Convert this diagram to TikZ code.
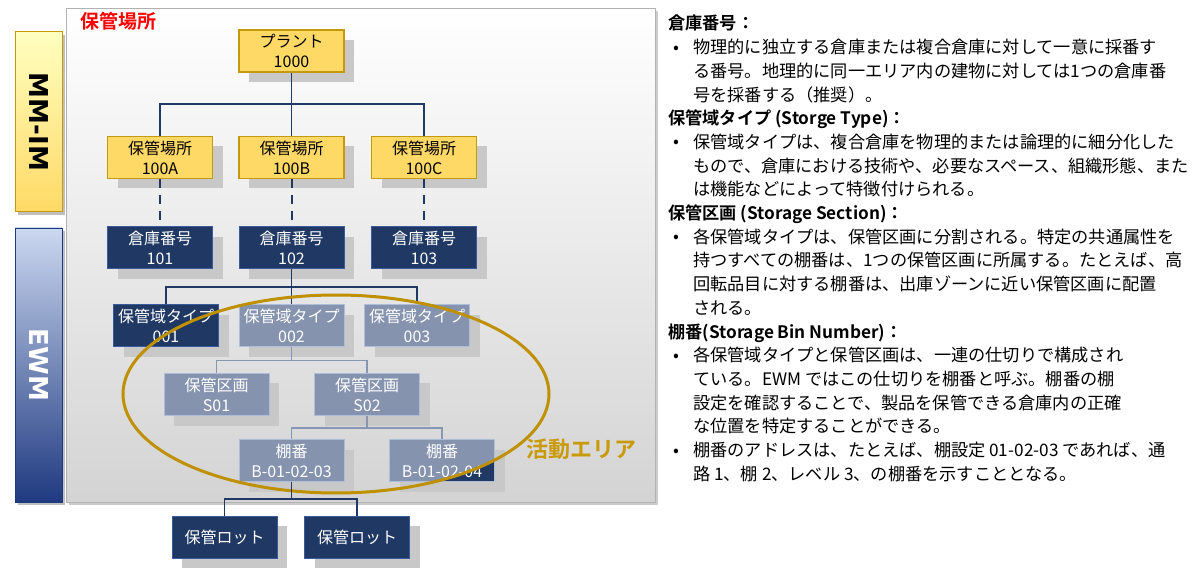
\documentclass[tikz,border=0pt]{standalone}
\usepackage{fontspec}
\usepackage{xcolor}
\usepackage{tikz}
\usetikzlibrary{arrows.meta, positioning, calc, shadows}
\setmainfont{Noto Sans CJK JP}[BoldFont={Noto Sans CJK JP Bold}]
\newfontfamily\barfont{DejaVu Sans}

\definecolor{boxyellow}{HTML}{FFD966}
\definecolor{boxgold}{HTML}{C49A0C}
\definecolor{boxnavy}{HTML}{1F3864}
\definecolor{navyedge}{HTML}{3A5A9C}
\definecolor{boxslate}{HTML}{8593AE}
\definecolor{slateedge}{HTML}{AEBEDA}
\definecolor{slateline}{HTML}{8797B3}
\definecolor{areagold}{HTML}{BF9000}
\definecolor{areatext}{HTML}{C99A06}
\definecolor{shadowgray}{HTML}{C8C8C8}
\definecolor{barlight}{HTML}{CCD8F0}
\definecolor{barmid}{HTML}{5C7CC4}
\definecolor{bardark}{HTML}{1F3A80}

\newcommand{\bul}{\makebox[25pt][l]{\hspace{5pt}\raisebox{0.5pt}{•}}}
\newcommand{\ind}{\hspace*{25pt}}

\tikzset{
  boxbase/.style={minimum width=105pt, minimum height=42pt, inner sep=0pt, align=center,
    font=\fontsize{16}{20}\selectfont},
  orgbox/.style={boxbase,
    general shadow={fill=shadowgray, shadow xshift=10pt, shadow yshift=-10pt}},
  plantbox/.style={orgbox, fill=boxyellow, draw=boxgold, line width=1.5pt},
  whbox/.style={orgbox, fill=boxnavy, draw=navyedge, line width=1pt, text=white},
  areabox/.style={orgbox, fill=boxslate, draw=slateedge, line width=1pt, text=white},
  treeline/.style={draw=boxnavy, line width=1.3pt},
  arealine/.style={draw=slateline, line width=1.3pt},
  sidebar/.style={minimum width=47pt, inner sep=0pt,
    general shadow={fill=black!25, shadow xshift=3pt, shadow yshift=-3pt}},
}

\begin{document}
\begin{tikzpicture}[x=1pt, y=-1pt]
    \useasboundingbox[fill=white] (0,0) rectangle (1200,569);

    % 保管場所の枠
    \draw[draw=black!30, top color=white, bottom color=black!17,
      general shadow={fill=black!20, shadow xshift=3pt, shadow yshift=-3pt}]
      (66,8) rectangle (655,502);
    \node[anchor=west, text=red, font=\bfseries\fontsize{19}{19}\selectfont] (title) at (77,21) {保管場所};

    % 左の帯
    \node[sidebar, minimum height=180pt, draw=boxgold, line width=1pt,
      top color=yellow!25, bottom color=boxyellow] (mmbar) at (38.5,122) {};
    \node[rotate=-90, font=\barfont\bfseries\fontsize{26}{26}\selectfont] (mmtext) at (mmbar) {MM-IM};
    \node[sidebar, minimum height=274pt, draw=bardark, line width=0.8pt,
      top color=barlight, middle color=barmid, bottom color=bardark] (ewmbar) at (38.5,365) {};
    \node[rotate=-90, text=white, font=\barfont\bfseries\fontsize{26}{26}\selectfont] (ewmtext) at (ewmbar) {EWM};

    % MM-IM
    \node[plantbox] (plant) at (291.5,51) {プラント\\1000};
    \node[plantbox] (slA) at (160,157.5) {保管場所\\100A};
    \node[plantbox] (slB) at (291.5,157.5) {保管場所\\100B};
    \node[plantbox] (slC) at (424,157.5) {保管場所\\100C};
    \coordinate (busA) at (291.5,104);
    \draw[treeline] (plant.south) -- (slB.north);
    \draw[treeline] (slA.north) |- (busA) -| (slC.north);

    % EWM
    \node[whbox] (wh101) at (160,248) {倉庫番号\\101};
    \node[whbox] (wh102) at (291.5,248) {倉庫番号\\102};
    \node[whbox] (wh103) at (424,248) {倉庫番号\\103};
    \foreach \a/\b in {slA/wh101, slB/wh102, slC/wh103}
        \draw[boxnavy, line width=2pt, dash pattern=on 9pt off 7pt] (\a.south) -- (\b.north);

    \node[whbox] (st001) at (166,326) {保管域タイプ\\001};
    \node[areabox] (st002) at (291.5,326) {保管域タイプ\\002};
    \node[areabox] (st003) at (417,326) {保管域タイプ\\003};
    \coordinate (busB) at (291.5,287);
    \draw[treeline] (wh102.south) -- (st002.north);
    \draw[treeline] (st001.north) |- (busB) -| (st003.north);

    \node[areabox] (sec01) at (216.5,394.5) {保管区画\\S01};
    \node[areabox] (sec02) at (367,394.5) {保管区画\\S02};
    \draw[arealine] (st002.south) -- ++(0,13) -| (sec01.north);
    \draw[arealine] (st002.south) ++(0,13) -| (sec02.north);

    \node[areabox] (bin03) at (291.5,460.5) {棚番\\B-01-02-03};
    \node[orgbox, fill=boxnavy] (bin04) at (442,460.5) {};
    \begin{scope}
        \clip (336,394) ellipse [x radius=213, y radius=99];
        \fill[boxslate] (bin04.south west) rectangle (bin04.north east);
    \end{scope}
    \node[boxbase, draw=slateedge, line width=1pt, text=white] (bin04t) at (bin04) {棚番\\B-01-02-04};
    \draw[arealine] (sec02.south) -- ++(0,12) -| (bin03.north);
    \draw[arealine] (sec02.south) ++(0,12) -| (bin04.north);

    % 活動エリア
    \draw[areagold, line width=3pt] (336,394) ellipse [x radius=213, y radius=99];
    \node[text=areatext, font=\bfseries\fontsize{22}{22}\selectfont] (area) at (581,449) {活動エリア};

    % 保管ロット
    \node[whbox] (lot1) at (224.5,537) {保管ロット};
    \node[whbox] (lot2) at (357,537) {保管ロット};
    \coordinate (busC) at (291.5,499);
    \draw[treeline] (bin03.south) -- (busC);
    \draw[treeline] (lot1.north) |- (busC) -| (lot2.north);

    % 説明
    \node[anchor=north west, inner sep=0pt, align=left, font=\fontsize{17.2}{23.7}\selectfont] (notes) at (668,15) {%
      \textbf{倉庫番号：}\\
      \bul 物理的に独立する倉庫または複合倉庫に対して一意に採番す\\
      \ind る番号。地理的に同一エリア内の建物に対しては1つの倉庫番\\
      \ind 号を採番する（推奨）。\\
      \textbf{保管域タイプ (Storge Type)：}\\
      \bul 保管域タイプは、複合倉庫を物理的または論理的に細分化した\\
      \ind もので、倉庫における技術や、必要なスペース、組織形態、また\\
      \ind は機能などによって特徴付けられる。\\
      \textbf{保管区画 (Storage Section)：}\\
      \bul 各保管域タイプは、保管区画に分割される。特定の共通属性を\\
      \ind 持つすべての棚番は、1つの保管区画に所属する。たとえば、高\\
      \ind 回転品目に対する棚番は、出庫ゾーンに近い保管区画に配置\\
      \ind される。\\
      \textbf{棚番(Storage Bin Number)：}\\
      \bul 各保管域タイプと保管区画は、一連の仕切りで構成され\\
      \ind ている。EWM ではこの仕切りを棚番と呼ぶ。棚番の棚\\
      \ind 設定を確認することで、製品を保管できる倉庫内の正確\\
      \ind な位置を特定することができる。\\
      \bul 棚番のアドレスは、たとえば、棚設定 01-02-03 であれば、通\\
      \ind 路 1、棚 2、レベル 3、の棚番を示すこととなる。};
\end{tikzpicture}
\end{document}
